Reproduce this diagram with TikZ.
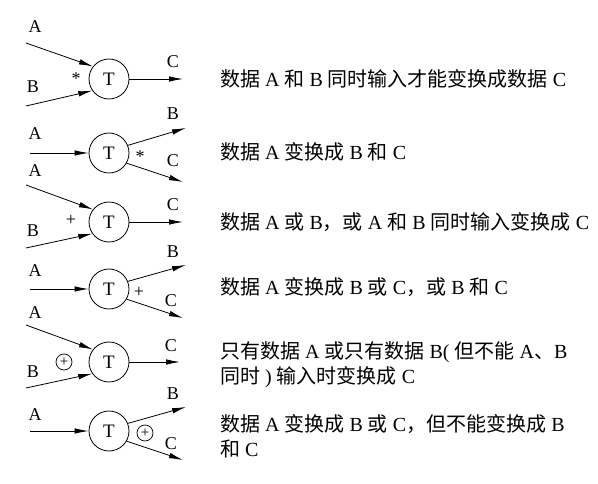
\documentclass[tikz,border=0pt]{standalone}
\usepackage{fontspec}
\setmainfont{Liberation Serif}
\newfontfamily\cjk{Noto Sans CJK SC}
\usetikzlibrary{arrows.meta}
\newcommand{\zh}[1]{{\cjk #1}}
\begin{document}
\begin{tikzpicture}[x=1pt,y=-1pt,
  proc/.style={draw,circle,minimum size=40pt,inner sep=0pt,line width=0.8pt,font=\fontsize{19}{20}\selectfont},
  flow/.style={line width=0.8pt,-{Latex[length=14pt,width=5.5pt]}},
  lbl/.style={font=\fontsize{18}{20}\selectfont,inner sep=0pt},
  op/.style={font=\fontsize{18}{18}\selectfont,inner sep=0pt},
  cop/.style={draw,circle,minimum size=16pt,inner sep=0pt,line width=0.7pt,font=\fontsize{15}{16}\selectfont},
  desc/.style={anchor=west,align=left,inner sep=0pt,font=\fontsize{20}{25}\selectfont}]
\useasboundingbox (0,0) rectangle (598,484);
% Row 1
\node[proc] (T1) at (109,79) {T};
\coordinate (a1) at (26,43);
\coordinate (b1) at (26,106);
\coordinate (c1) at (183,79);
\draw[flow] (a1) -- (T1.142);
\draw[flow] (b1) -- (T1.215);
\draw[flow] (T1) -- (c1);
\node[lbl] (la1) at (35,27) {A};
\node[lbl] (lb1) at (33,87) {B};
\node[lbl] (lc1) at (173,62) {C};
\node[op] (o1) at (76,79) {*};
% Row 2
\node[proc] (T2) at (109,153) {T};
\coordinate (a2) at (30,153);
\coordinate (b2) at (186,128);
\coordinate (c2) at (183,182);
\draw[flow] (a2) -- (T2);
\draw[flow] (T2.22) -- (b2);
\draw[flow] (T2.-30) -- (c2);
\node[lbl] (la2) at (35,134) {A};
\node[lbl] (lb2) at (173,114) {B};
\node[lbl] (lc2) at (173,161) {C};
\node[op] (o2) at (140,157) {*};
% Row 3
\node[proc] (T3) at (109,222) {T};
\coordinate (a3) at (26,185);
\coordinate (b3) at (26,248);
\coordinate (c3) at (183,222);
\draw[flow] (a3) -- (T3.142);
\draw[flow] (b3) -- (T3.215);
\draw[flow] (T3) -- (c3);
\node[lbl] (la3) at (35,171) {A};
\node[lbl] (lb3) at (33,231) {B};
\node[lbl] (lc3) at (173,205) {C};
\node[op] (o3) at (71,220) {+};
% Row 4
\node[proc] (T4) at (109,289) {T};
\coordinate (a4) at (30,289);
\coordinate (b4) at (186,265);
\coordinate (c4) at (183,318);
\draw[flow] (a4) -- (T4);
\draw[flow] (T4.22) -- (b4);
\draw[flow] (T4.-30) -- (c4);
\node[lbl] (la4) at (35,271) {A};
\node[lbl] (lb4) at (173,252) {B};
\node[lbl] (lc4) at (171,301) {C};
\node[op] (o4) at (139,292) {+};
% Row 5
\node[proc] (T5) at (109,362) {T};
\coordinate (a5) at (26,325);
\coordinate (b5) at (26,388);
\coordinate (c5) at (180,362);
\draw[flow] (a5) -- (T5.142);
\draw[flow] (b5) -- (T5.215);
\draw[flow] (T5) -- (c5);
\node[lbl] (la5) at (35,313) {A};
\node[lbl] (lb5) at (33,372) {B};
\node[lbl] (lc5) at (171,346) {C};
\node[cop] (o5) at (64,362) {+};
% Row 6
\node[proc] (T6) at (109,431) {T};
\coordinate (a6) at (30,431);
\coordinate (b6) at (186,407);
\coordinate (c6) at (183,460);
\draw[flow] (a6) -- (T6);
\draw[flow] (T6.22) -- (b6);
\draw[flow] (T6.-30) -- (c6);
\node[lbl] (la6) at (35,415) {A};
\node[lbl] (lb6) at (173,394) {B};
\node[lbl] (lc6) at (171,444) {C};
\node[cop] (o6) at (145,433) {+};
% Descriptions
\node[desc] (d1) at (220,79) {\zh{数据} A \zh{和} B \zh{同时输入才能变换成数据} C};
\node[desc] (d2) at (220,152) {\zh{数据} A \zh{变换成} B \zh{和} C};
\node[desc] (d3) at (220,222) {\zh{数据} A \zh{或} B\zh{，或} A \zh{和} B \zh{同时输入变换成} C};
\node[desc] (d4) at (220,287) {\zh{数据} A \zh{变换成} B \zh{或} C\zh{，或} B \zh{和} C};
\node[desc] (d5) at (220,365) {\zh{只有数据} A \zh{或只有数据} B( \zh{但不能} A\zh{、}B\\\zh{同时} ) \zh{输入时变换成} C};
\node[desc] (d6) at (220,436) {\zh{数据} A \zh{变换成} B \zh{或} C\zh{，但不能变换成} B\\\zh{和} C};
\end{tikzpicture}
\end{document}
